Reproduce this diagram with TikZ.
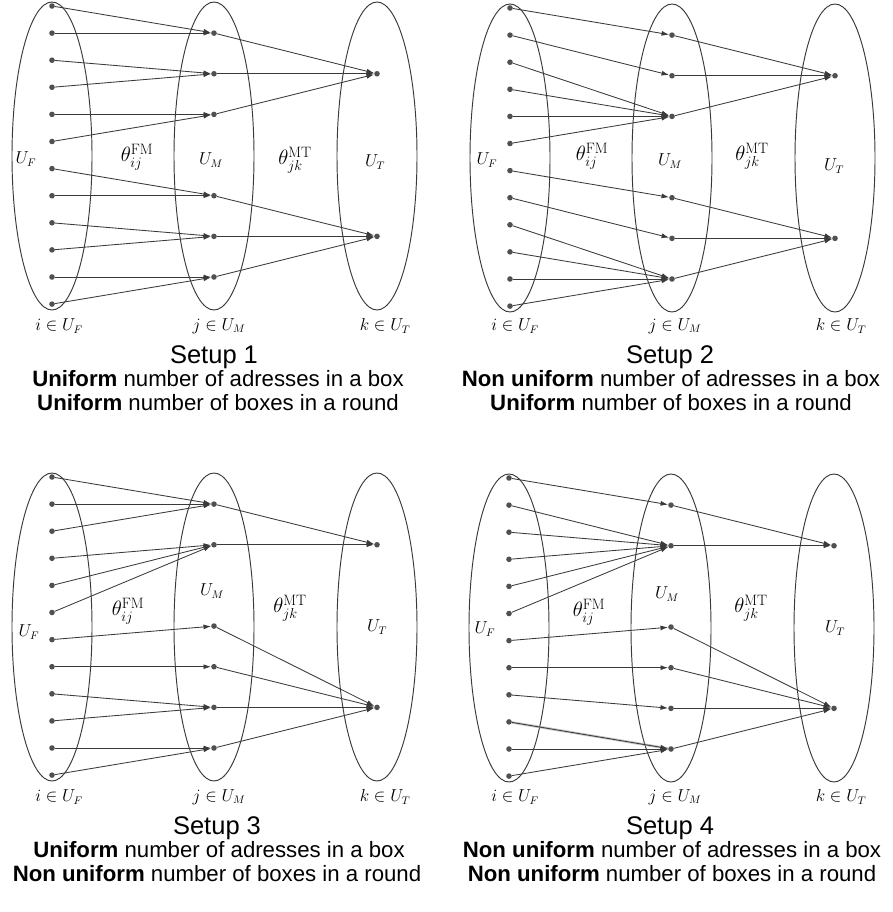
\documentclass[tikz,border=0pt]{standalone}
\usepackage{fontspec}
\newfontfamily\arialf{Liberation Sans}
\usetikzlibrary{arrows.meta,shapes.geometric}
\definecolor{ink}{HTML}{3A3A3A}
\definecolor{dotc}{HTML}{505050}
\tikzset{
  setshape/.style={ellipse, draw=ink, line width=0.95pt, minimum width=80pt, minimum height=308pt, inner sep=0pt},
  pt/.style={circle, fill=dotc, inner sep=0pt, minimum size=5.6pt},
  link/.style={draw=ink, line width=0.85pt, -{Latex[length=7.5pt,width=5pt]}},
  lab/.style={font=\fontsize{16}{19}\selectfont, inner sep=0pt},
  theta/.style={font=\fontsize{21.5}{25}\selectfont, inner sep=0pt},
  ttl/.style={font=\arialf\fontsize{25.5}{30}\selectfont, anchor=base, inner sep=0pt},
  sub/.style={font=\arialf\fontsize{22.2}{27}\selectfont, anchor=base, inner sep=0pt},
}
\begin{document}
\begin{tikzpicture}[x=1pt,y=-1pt]
\useasboundingbox (0,0) rectangle (892,912);
% ---------------- Panel 1 ----------------
\begin{scope}[shift={(0,0)}]
  \node[setshape] (p1F) at (52,156) {};
  \node[setshape] (p1M) at (214,156) {};
  \node[setshape] (p1T) at (377,156) {};
  \foreach \i in {0,...,11} \node[pt] (p1f\i) at (52,{6+27.1*\i}) {};
  \foreach \m [count=\c from 0] in {1,2.5,4,7,8.5,10} \node[pt] (p1m\c) at (214,{6+27.1*\m}) {};
  \node[pt] (p1t0) at (377,{6+27.1*2.5}) {};
  \node[pt] (p1t1) at (377,{6+27.1*8.5}) {};
  \foreach \a/\b in {0/0,1/0,2/1,3/1,4/2,5/2,6/3,7/3,8/4,9/4,10/5,11/5} \draw[link] (p1f\a) -- (p1m\b);
  \foreach \a/\b in {0/0,1/0,2/0,3/1,4/1,5/1} \draw[link] (p1m\a) -- (p1t\b);
  \node[lab] (p1lF) at (26,159) {$U_F$};
  \node[theta] (p1lFM) at (137,157) {$\theta^{\mathrm{FM}}_{ij}$};
  \node[lab] (p1lM) at (211,160) {$U_M$};
  \node[theta] (p1lMT) at (295,160) {$\theta^{\mathrm{MT}}_{jk}$};
  \node[lab] (p1lT) at (375,162) {$U_T$};
  \node[lab] (p1bi) at (59,326) {$i\in U_F$};
  \node[lab] (p1bj) at (219,326) {$j\in U_M$};
  \node[lab] (p1bk) at (385,326) {$k\in U_T$};
  \node[ttl] (p1t) at (214,363) {Setup 1};
  \node[sub] (p1s1) at (218,386) {\textbf{Uniform} number of adresses in a box};
  \node[sub] (p1s2) at (218,410) {\textbf{Uniform} number of boxes in a round};
\end{scope}
% ---------------- Panel 2 ----------------
\begin{scope}[shift={(458,2)}]
  \node[setshape] (p2F) at (52,156) {};
  \node[setshape] (p2M) at (214,156) {};
  \node[setshape] (p2T) at (377,156) {};
  \foreach \i in {0,...,11} \node[pt] (p2f\i) at (52,{6+27.1*\i}) {};
  \foreach \m [count=\c from 0] in {1,2.5,4,7,8.5,10} \node[pt] (p2m\c) at (214,{6+27.1*\m}) {};
  \node[pt] (p2t0) at (377,{6+27.1*2.5}) {};
  \node[pt] (p2t1) at (377,{6+27.1*8.5}) {};
  \foreach \a/\b in {0/0,1/1,2/2,3/2,4/2,5/2,6/3,7/4,8/5,9/5,10/5,11/5} \draw[link] (p2f\a) -- (p2m\b);
  \foreach \a/\b in {0/0,1/0,2/0,3/1,4/1,5/1} \draw[link] (p2m\a) -- (p2t\b);
  \node[lab] (p2lF) at (29,158) {$U_F$};
  \node[theta] (p2lFM) at (134,154) {$\theta^{\mathrm{FM}}_{ij}$};
  \node[lab] (p2lM) at (212,159) {$U_M$};
  \node[theta] (p2lMT) at (294,154) {$\theta^{\mathrm{MT}}_{jk}$};
  \node[lab] (p2lT) at (376,164) {$U_T$};
  \node[lab] (p2bi) at (57,324) {$i\in U_F$};
  \node[lab] (p2bj) at (217,324) {$j\in U_M$};
  \node[lab] (p2bk) at (383,324) {$k\in U_T$};
  \node[ttl] (p2t) at (212,361) {Setup 2};
  \node[sub] (p2s1) at (213,384) {\textbf{Non uniform} number of adresses in a box};
  \node[sub] (p2s2) at (213,408) {\textbf{Uniform} number of boxes in a round};
\end{scope}
% ---------------- Panel 3 ----------------
\begin{scope}[shift={(0,471)}]
  \node[setshape] (p3F) at (52,156) {};
  \node[setshape] (p3M) at (214,156) {};
  \node[setshape] (p3T) at (377,156) {};
  \foreach \i in {0,...,11} \node[pt] (p3f\i) at (52,{6+27.1*\i}) {};
  \foreach \m [count=\c from 0] in {1,2.5,5.5,7,8.5,10} \node[pt] (p3m\c) at (214,{6+27.1*\m}) {};
  \node[pt] (p3t0) at (377,{6+27.1*2.5}) {};
  \node[pt] (p3t1) at (377,{6+27.1*8.5}) {};
  \foreach \a/\b in {0/0,1/0,2/0,3/1,4/1,5/1,6/2,7/3,8/4,9/4,10/5,11/5} \draw[link] (p3f\a) -- (p3m\b);
  \foreach \a/\b in {0/0,1/0,2/1,3/1,4/1,5/1} \draw[link] (p3m\a) -- (p3t\b);
  \node[lab] (p3lF) at (29,161) {$U_F$};
  \node[theta] (p3lFM) at (128,140) {$\theta^{\mathrm{FM}}_{ij}$};
  \node[lab] (p3lM) at (212,120) {$U_M$};
  \node[theta] (p3lMT) at (290,137) {$\theta^{\mathrm{MT}}_{jk}$};
  \node[lab] (p3lT) at (377,156) {$U_T$};
  \node[lab] (p3bi) at (59,326) {$i\in U_F$};
  \node[lab] (p3bj) at (219,326) {$j\in U_M$};
  \node[lab] (p3bk) at (385,326) {$k\in U_T$};
  \node[ttl] (p3t) at (217,363) {Setup 3};
  \node[sub] (p3s1) at (219,386) {\textbf{Uniform} number of adresses in a box};
  \node[sub] (p3s2) at (217,410) {\textbf{Non uniform} number of boxes in a round};
\end{scope}
% ---------------- Panel 4 ----------------
\begin{scope}[shift={(457,472)}]
  \node[setshape] (p4F) at (52,156) {};
  \node[setshape] (p4M) at (214,156) {};
  \node[setshape] (p4T) at (377,156) {};
  \foreach \i in {0,...,11} \node[pt] (p4f\i) at (52,{6+27.1*\i}) {};
  \foreach \m [count=\c from 0] in {1,2.5,5.5,7,8.5,10} \node[pt] (p4m\c) at (214,{6+27.1*\m}) {};
  \node[pt] (p4t0) at (377,{6+27.1*2.5}) {};
  \node[pt] (p4t1) at (377,{6+27.1*8.5}) {};
  \draw[ink!45, line width=2.6pt, opacity=0.6] (p4f9) -- (p4m5);
  \foreach \a/\b in {0/0,1/1,2/1,3/1,4/1,5/1,6/2,7/3,8/4,9/5,10/5,11/5} \draw[link] (p4f\a) -- (p4m\b);
  \foreach \a/\b in {0/0,1/0,2/1,3/1,4/1,5/1} \draw[link] (p4m\a) -- (p4t\b);
  \node[lab] (p4lF) at (28,157) {$U_F$};
  \node[theta] (p4lFM) at (132,140) {$\theta^{\mathrm{FM}}_{ij}$};
  \node[lab] (p4lM) at (210,122) {$U_M$};
  \node[theta] (p4lMT) at (294,136) {$\theta^{\mathrm{MT}}_{jk}$};
  \node[lab] (p4lT) at (378,156) {$U_T$};
  \node[lab] (p4bi) at (58,325) {$i\in U_F$};
  \node[lab] (p4bj) at (218,325) {$j\in U_M$};
  \node[lab] (p4bk) at (384,325) {$k\in U_T$};
  \node[ttl] (p4t) at (213,362) {Setup 4};
  \node[sub] (p4s1) at (215,385) {\textbf{Non uniform} number of adresses in a box};
  \node[sub] (p4s2) at (215,409) {\textbf{Non uniform} number of boxes in a round};
\end{scope}
\end{tikzpicture}
\end{document}
